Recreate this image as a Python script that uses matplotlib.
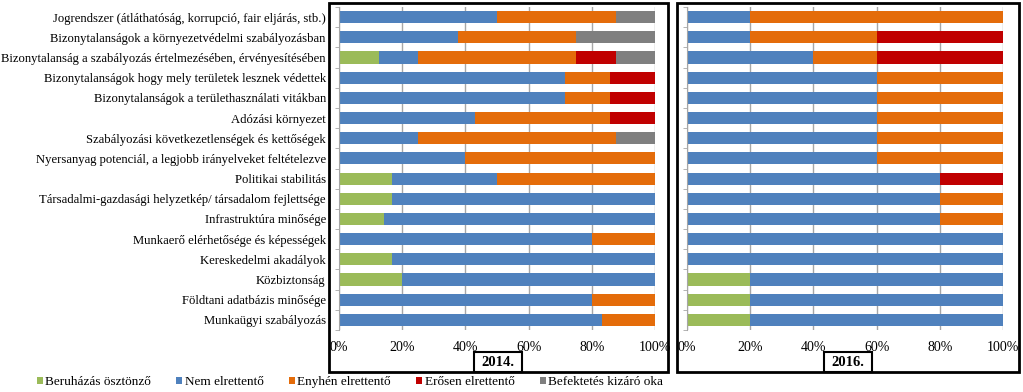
import matplotlib.pyplot as plt
import numpy as np
from matplotlib.patches import Rectangle, Patch
from matplotlib.ticker import PercentFormatter

plt.rcParams['font.family'] = ['Liberation Serif', 'DejaVu Serif']

categories = [
    "Jogrendszer (átláthatóság, korrupció, fair eljárás, stb.)",
    "Bizonytalanságok a környezetvédelmi szabályozásban",
    "Bizonytalanság a szabályozás értelmezésében, érvényesítésében",
    "Bizonytalanságok hogy mely területek lesznek védettek",
    "Bizonytalanságok a területhasználati vitákban",
    "Adózási környezet",
    "Szabályozási következetlenségek és kettőségek",
    "Nyersanyag potenciál, a legjobb irányelveket feltételezve",
    "Politikai stabilitás",
    "Társadalmi-gazdasági helyzetkép/ társadalom fejlettsége",
    "Infrastruktúra minősége",
    "Munkaerő elérhetősége és képességek",
    "Kereskedelmi akadályok",
    "Közbiztonság",
    "Földtani adatbázis minősége",
    "Munkaügyi szabályozás",
]

series_names = ["Beruházás ösztönző", "Nem elrettentő", "Enyhén elrettentő",
                "Erősen elrettentő", "Befektetés kizáró oka"]
colors = ["#9BBB59", "#4F81BD", "#E46C0A", "#C00000", "#7F7F7F"]

# 2014 shares (%)
g14 = [0, 0, 12.5, 0, 0, 0, 0, 0, 16.7, 16.7, 14.3, 0, 16.7, 20, 0, 0]
b14 = [50, 37.5, 12.5, 71.4, 71.4, 42.9, 25, 40, 33.3, 83.3, 85.7, 80, 83.3, 80, 80, 83.3]
o14 = [37.5, 37.5, 50, 14.3, 14.3, 42.9, 62.5, 60, 50, 0, 0, 20, 0, 0, 20, 16.7]
r14 = [0, 0, 12.5, 14.3, 14.3, 14.3, 0, 0, 0, 0, 0, 0, 0, 0, 0, 0]
k14 = [12.5, 25, 12.5, 0, 0, 0, 12.5, 0, 0, 0, 0, 0, 0, 0, 0, 0]

# 2016 shares (%)
g16 = [0, 0, 0, 0, 0, 0, 0, 0, 0, 0, 0, 0, 0, 20, 20, 20]
b16 = [20, 20, 40, 60, 60, 60, 60, 60, 80, 80, 80, 100, 100, 80, 80, 80]
o16 = [80, 40, 20, 40, 40, 40, 40, 40, 0, 20, 20, 0, 0, 0, 0, 0]
r16 = [0, 40, 40, 0, 0, 0, 0, 0, 20, 0, 0, 0, 0, 0, 0, 0]
k16 = [0, 0, 0, 0, 0, 0, 0, 0, 0, 0, 0, 0, 0, 0, 0, 0]

W, H = 1023, 392
fig = plt.figure(figsize=(W / 100, H / 100), dpi=100)


def px_axes(x0, x1, y0, y1):
    return fig.add_axes([x0 / W, 1 - y1 / H, (x1 - x0) / W, (y1 - y0) / H])


def draw_panel(ax, data, show_labels):
    y = np.arange(len(categories))
    left = np.zeros(len(categories))
    for vals, c in zip(data, colors):
        vals = np.array(vals)
        ax.barh(y, vals, left=left, height=0.6, color=c, zorder=2)
        left += vals
    ax.set_xlim(0, 100)
    ax.set_ylim(len(categories) - 0.5, -0.5)
    ax.set_xticks(np.arange(0, 101, 20))
    ax.xaxis.set_major_formatter(PercentFormatter(decimals=0))
    ax.tick_params(axis='x', length=0, pad=8, labelsize=10)
    ax.grid(axis='x', color='#A6A6A6', lw=1, zorder=0)
    for s in ['top', 'right', 'bottom']:
        ax.spines[s].set_visible(False)
    ax.spines['left'].set_color('#A6A6A6')
    ax.set_yticks(y)
    if show_labels:
        ax.set_yticklabels(categories, fontsize=9.1)
    else:
        ax.set_yticklabels([])
    ax.tick_params(axis='y', length=0, pad=9.5)
    ax.set_yticks(np.arange(len(categories) + 1) - 0.5, minor=True)
    ax.tick_params(axis='y', which='minor', length=3, color='#A6A6A6')


ax1 = px_axes(339, 655, 7, 330)
draw_panel(ax1, [g14, b14, o14, r14, k14], True)
ax2 = px_axes(687, 1003, 7, 330)
draw_panel(ax2, [g16, b16, o16, r16, k16], False)

# panel frames
for x0, x1 in [(329, 668), (677, 1019)]:
    fig.patches.append(Rectangle((x0 / W, 1 - 372 / H), (x1 - x0) / W, 369 / H,
                                 transform=fig.transFigure, fill=False,
                                 edgecolor='black', lw=2))

# year boxes
for xc, yr in [(498, "2014."), (848, "2016.")]:
    fig.patches.append(Rectangle(((xc - 24) / W, 1 - 372 / H), 48 / W, 20 / H,
                                 transform=fig.transFigure, facecolor='white',
                                 edgecolor='black', lw=1.5))
    fig.text(xc / W, 1 - 362 / H, yr, ha='center', va='center',
             fontsize=10.5, fontweight='bold')

handles = [Patch(facecolor=c, label=n) for c, n in zip(colors, series_names)]
fig.legend(handles=handles, loc='center', bbox_to_anchor=(350 / W, 1 - 382 / H),
           ncol=5, frameon=False, fontsize=9.5, handlelength=0.45, handleheight=0.45,
           handletextpad=0.2, columnspacing=1.9, borderpad=0)

fig.savefig("out.png", dpi=100)
